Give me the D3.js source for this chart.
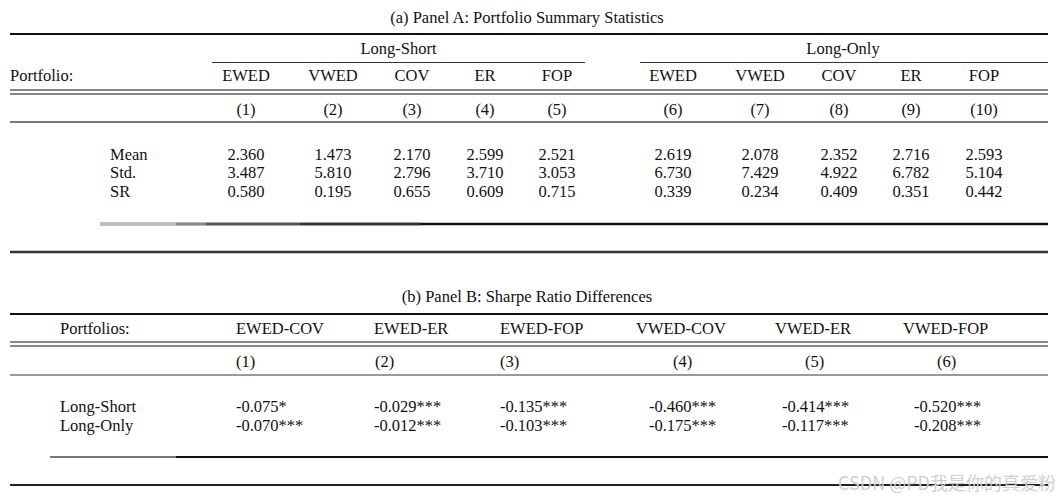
<!DOCTYPE html>
<html lang="en">
<head>
    <meta charset="UTF-8">
    <title>Portfolio tables</title>
    <script src="https://d3js.org/d3.v7.min.js"></script>
    <style>
        body { margin: 0; background: white; }
        text {
            font-family: "Liberation Serif", "Times New Roman", serif;
            font-size: 16.5px;
            fill: #111;
        }
        .wm {
            font-family: "Noto Sans CJK SC", "Noto Sans", sans-serif;
            font-size: 18px;
            fill: #cfcfcf;
        }
    </style>
</head>
<body>
    <div id="chart"></div>

    <script>
        // ---- Panel A data ----
        const groupsA = ["Long-Short", "Long-Only"];
        const portfoliosA = ["EWED", "VWED", "COV", "ER", "FOP"];
        const statsA = ["Mean", "Std.", "SR"];
        const longShort = [
            [2.360, 1.473, 2.170, 2.599, 2.521],
            [3.487, 5.810, 2.796, 3.710, 3.053],
            [0.580, 0.195, 0.655, 0.609, 0.715]
        ];
        const longOnly = [
            [2.619, 2.078, 2.352, 2.716, 2.593],
            [6.730, 7.429, 4.922, 6.782, 5.104],
            [0.339, 0.234, 0.409, 0.351, 0.442]
        ];

        // ---- Panel B data ----
        const pairsB = ["EWED-COV", "EWED-ER", "EWED-FOP", "VWED-COV", "VWED-ER", "VWED-FOP"];
        const rowsB = ["Long-Short", "Long-Only"];
        const srDiff = [
            [-0.075, -0.029, -0.135, -0.460, -0.414, -0.520],
            [-0.070, -0.012, -0.103, -0.175, -0.117, -0.208]
        ];
        const starsB = [
            ["*", "***", "***", "***", "***", "***"],
            ["***", "***", "***", "***", "***", "***"]
        ];

        const width = 1064, height = 501;
        const svg = d3.select("#chart").append("svg")
            .attr("width", width)
            .attr("height", height);

        function rule(y, x1, x2, w, c) {
            svg.append("rect")
                .attr("x", x1)
                .attr("y", y - w / 2)
                .attr("width", x2 - x1)
                .attr("height", w)
                .attr("fill", c);
        }
        function txt(x, y, s, anchor, cls) {
            return svg.append("text")
                .attr("x", x).attr("y", y)
                .attr("dy", "0.35em")
                .attr("text-anchor", anchor || "middle")
                .attr("class", cls || null)
                .text(s);
        }

        const fmt = d3.formatLocale({ decimal: ".", thousands: ",", grouping: [3], currency: ["", ""], minus: "-" }).format(".3f");
        const L = 10, R = 1048;

        // ================= Panel A =================
        const colsA = groupsA.flatMap(g => portfoliosA.map(p => g + "|" + p));
        const xA = d3.scaleOrdinal()
            .domain(colsA)
            .range([246, 333, 412, 485, 557, 673, 760, 839, 911, 984]);
        const yA = d3.scalePoint().domain(statsA).range([154, 191]);

        txt(527, 17, "(a) Panel A: Portfolio Summary Statistics");
        rule(34, L, R, 2, "#111");

        const spansA = { "Long-Short": [212, 585], "Long-Only": [640, R] };
        groupsA.forEach(g => {
            txt((spansA[g][0] + spansA[g][1]) / 2 - (g === "Long-Short" ? 0 : 1), 48, g);
            rule(62.5, spansA[g][0], spansA[g][1], 1, "#333");
        });

        txt(L, 75, "Portfolio:", "start");
        colsA.forEach((c, i) => {
            txt(xA(c), 75, c.split("|")[1]);
            txt(xA(c), 109, "(" + (i + 1) + ")");
        });
        rule(90, L, R, 2, "#888");
        rule(94, L, R, 2, "#888");
        rule(122, L, R, 2, "#777");

        statsA.forEach((s, ri) => {
            txt(110, yA(s), s, "start");
            groupsA.forEach((g, gi) => {
                const vals = gi === 0 ? longShort[ri] : longOnly[ri];
                portfoliosA.forEach((p, pi) => {
                    txt(xA(g + "|" + p), yA(s), fmt(vals[pi]));
                });
            });
        });

        // closing rule: full dark line, lighter at its left end as in the scan
        rule(224, 100, R, 2.5, "#111");
        rule(224, 100, 176, 2.5, "#bbb");
        rule(224, 176, 206, 2.5, "#888");
        rule(224, 206, 300, 2.5, "#555");
        rule(224, 300, 420, 2.5, "#333");
        rule(252, L, R, 2.5, "#333");

        // ================= Panel B =================
        const xHead = d3.scaleOrdinal().domain(pairsB).range([236, 374, 500, 636, 775, 903]);
        const xNum = d3.scaleOrdinal().domain(pairsB).range([236, 375, 500, 673, 805, 937]);
        const xVal = d3.scaleOrdinal().domain(pairsB).range([236, 374, 500, 649, 782, 914]);
        const yB = d3.scalePoint().domain(rowsB).range([406, 425]);

        txt(527, 296, "(b) Panel B: Sharpe Ratio Differences");
        rule(314, L, R, 2, "#111");

        txt(60, 328, "Portfolios:", "start");
        pairsB.forEach((p, i) => {
            txt(xHead(p), 328, p, "start");
            txt(xNum(p), 361, "(" + (i + 1) + ")", "start");
        });
        rule(342, L, R, 2, "#888");
        rule(346, L, R, 2, "#888");
        rule(375, L, R, 2, "#999");

        rowsB.forEach((r, ri) => {
            txt(60, yB(r), r, "start");
            pairsB.forEach((p, ci) => {
                txt(xVal(p), yB(r), fmt(srDiff[ri][ci]) + starsB[ri][ci], "start");
            });
        });

        rule(457, 50, R, 2, "#111");
        rule(457, 50, 176, 2, "#777");
        rule(485, L, R, 2, "#222");

        txt(1056, 484, "CSDN @PD我是你的真爱粉", "end", "wm");
    </script>
</body>
</html>
